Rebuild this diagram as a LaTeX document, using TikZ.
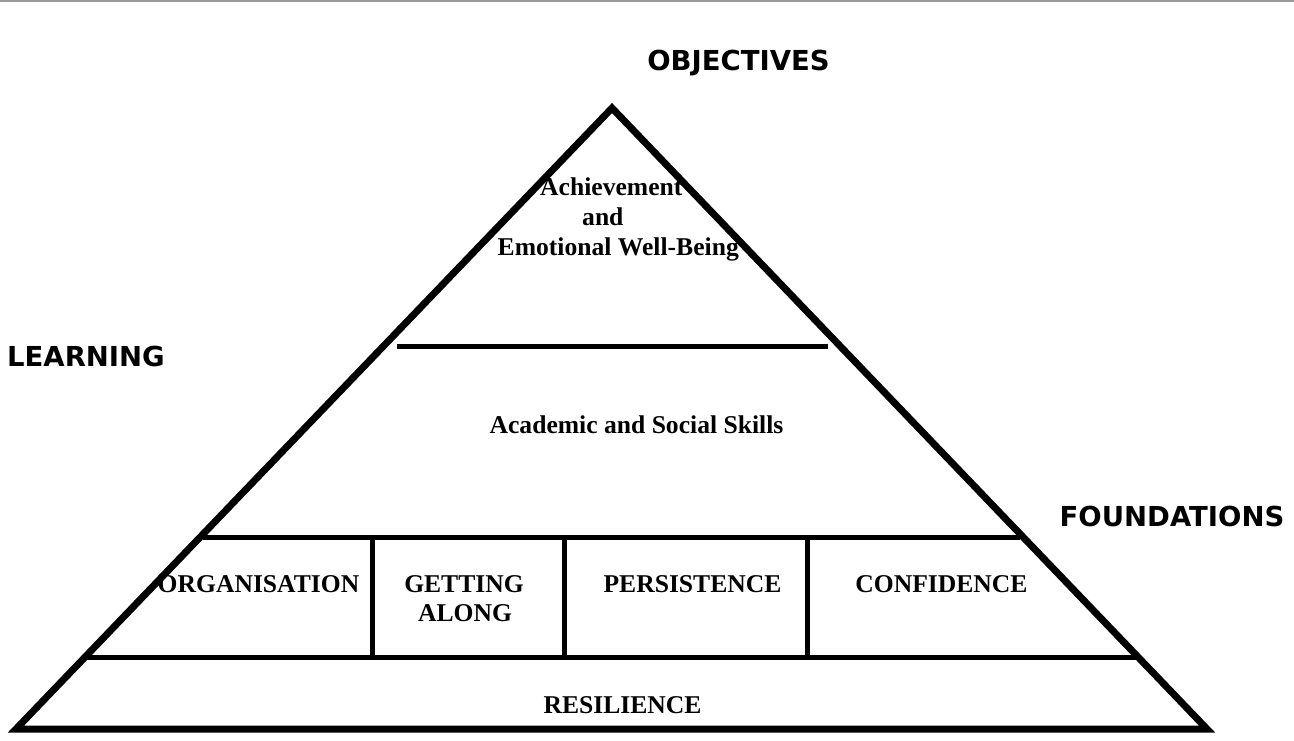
\documentclass[tikz,border=0pt]{standalone}
\usepackage{fontspec}
\setmainfont{Liberation Serif}
\newfontfamily\heavyfont{DejaVu Sans}
\begin{document}
\begin{tikzpicture}[x=1pt,y=-1pt,
  lab/.style={font=\fontsize{25.6}{30}\selectfont\bfseries, inner sep=0pt, anchor=base},
  labw/.style={lab, anchor=base west},
  side/.style={font=\heavyfont\fontsize{27.5}{30}\selectfont\bfseries, inner sep=0pt, anchor=base},
  outline/.style={line width=7pt, line join=miter},
  divider/.style={line width=5pt}
]
\useasboundingbox (0,0) rectangle (1294,740);
\fill[gray!80] (0,0) rectangle (1294,1.5);

% side labels
\node[side] (obj) at (738.5,70) {OBJECTIVES};
\node[side] (learn) at (86,366) {LEARNING};
\node[side] (found) at (1172,526) {FOUNDATIONS};

% inner labels
\node[labw] (ach) at (540,195) {Achievement};
\node[labw] (and) at (582,225) {and};
\node[labw] (emo) at (497.5,255) {Emotional Well-Being};
\node[lab] (acad) at (636.5,433) {Academic and Social Skills};
\node[lab] (org) at (258.5,592) {ORGANISATION};
\node[lab] (get) at (464,592) {GETTING};
\node[lab] (along) at (465,621) {ALONG};
\node[lab] (pers) at (692.5,592) {PERSISTENCE};
\node[lab] (conf) at (941.5,592) {CONFIDENCE};
\node[lab] (res) at (622.5,713.5) {RESILIENCE};

% dividers
\draw[divider] (397,346) -- (828,346);
\draw[divider] (203,537.5) -- (1020,537.5);
\draw[divider] (83,657.5) -- (1140,657.5);
\draw[divider] (372,537.5) -- (372,657.5);
\draw[divider] (564,537.5) -- (564,657.5);
\draw[divider] (807,537.5) -- (807,657.5);

% triangle
\coordinate (apex) at (612,108);
\coordinate (bl) at (16,729);
\coordinate (br) at (1207,729);
\draw[outline] (apex) -- (bl) -- (br) -- cycle;
\end{tikzpicture}
\end{document}
